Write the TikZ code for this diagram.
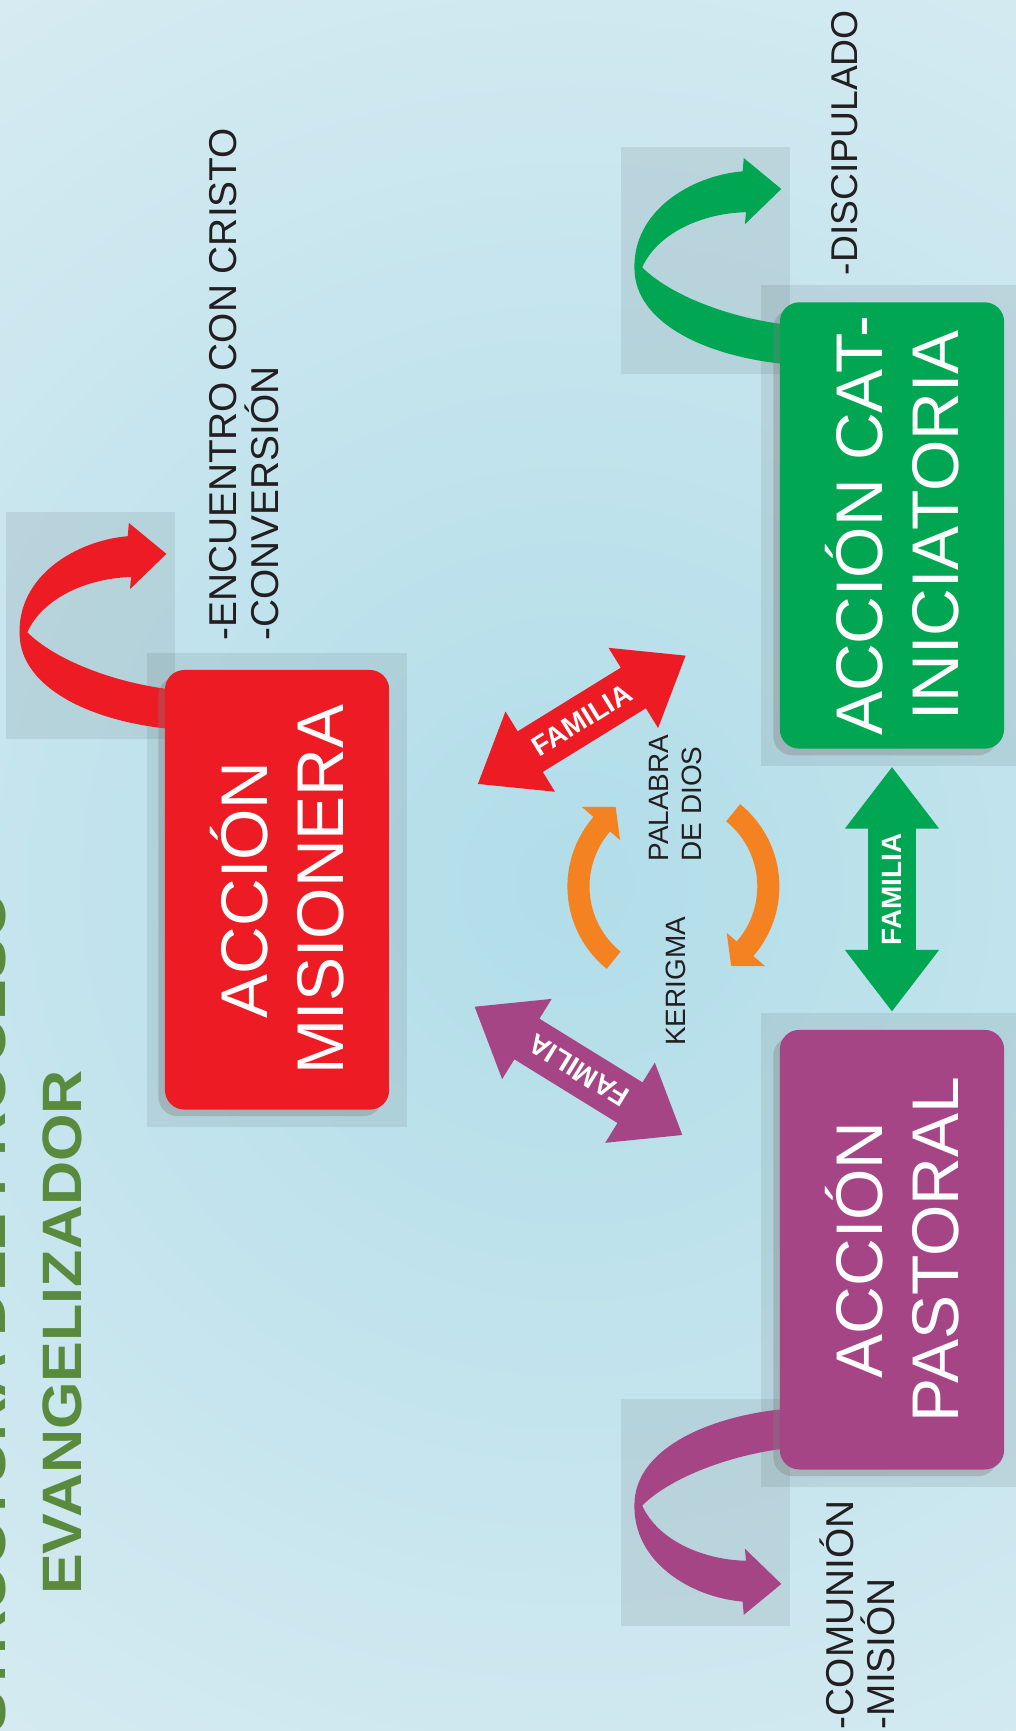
\documentclass[tikz,border=0pt]{standalone}
\usepackage{fontspec}
\setmainfont{Liberation Sans}
\newfontfamily\titlefont[FakeStretch=1.1]{Liberation Sans}
\usetikzlibrary{shapes.arrows,shadows,calc}

\definecolor{misred}{HTML}{ED1C24}
\definecolor{catgreen}{HTML}{00A651}
\definecolor{pastpurple}{HTML}{A54585}
\definecolor{kerorange}{HTML}{F58220}
\definecolor{titlegreen}{HTML}{5A8A3E}
\definecolor{inktext}{HTML}{231F20}
\definecolor{bglight}{HTML}{DCEDF3}
\definecolor{bgdeep}{HTML}{B1DDE9}

\pgfdeclarelayer{bg}
\pgfdeclarelayer{mid}
\pgfsetlayers{bg,mid,main}

\tikzset{
  accion/.style={rotate=90, rounded corners=5pt, minimum width=3.98cm,
    minimum height=2.03cm, text=white, align=center,
    font=\fontsize{17}{19.6}\selectfont,
    drop shadow={shadow xshift=-.6mm, shadow yshift=-.6mm, opacity=.35}},
  familia/.style={double arrow, minimum height=2.21cm, inner xsep=0pt,
    inner ysep=3.4pt, text height=5.1pt, text depth=0pt,
    double arrow head extend=6pt, double arrow tip angle=75,
    text=white, font=\bfseries\fontsize{7.2}{8}\selectfont},
  nota/.style={rotate=90, anchor=south west, inner sep=0pt, align=left,
    text=inktext, font=\fontsize{10}{10.6}\selectfont},
  sombra/.style={fill=black, opacity=.075},
  uturn/.pic={
    \fill[sombra] (-143,-178) rectangle (10,28);
    \fill[#1] (10,18) -- (0,18) .. controls (-70,10) and (-130,-20) .. (-131,-67)
      .. controls (-133,-120) and (-80,-152) .. (-33,-156)
      -- (-32,-168) -- (2,-140) -- (-31,-108) -- (-30,-119)
      .. controls (-70,-118) and (-110,-100) .. (-124,-69)
      .. controls (-100,-45) and (-50,-25) .. (0,-18) -- (10,-18) -- cycle;
  },
  kerturn/.pic={
    \fill[kerorange] (129:96) arc[start angle=129, end angle=221, radius=96]
      -- (221:110) -- (234:89) -- (221:64) -- (221:76)
      arc[start angle=221, end angle=129, radius=76] -- cycle;
  }
}

\begin{document}
\begin{tikzpicture}[x=0.01cm, y=-0.01cm]
  \useasboundingbox (0,0) rectangle (920,1568);

  % las tres acciones
  \node[accion, fill=misred] (mis) at (251,806) {ACCIÓN\\MISIONERA};
  \node[accion, fill=catgreen] (cat) at (808,476) {ACCIÓN CAT-\\INICIATORIA};
  \node[accion, fill=pastpurple] (pas) at (808,1132) {ACCIÓN\\PASTORAL};

  \begin{pgfonlayer}{bg}
    \fill[bglight] (0,0) rectangle (920,1568);
    \shade[inner color=bgdeep, outer color=bglight] (520,800) circle (1100);
  \end{pgfonlayer}

  \begin{pgfonlayer}{mid}
    \foreach \b in {mis,cat,pas}
      \fill[sombra] ([shift={(-16,-15)}]\b.north east) rectangle ([shift={(15,15)}]\b.south west);
    \pic at ([yshift=-0.355cm]mis.north east) {uturn=misred};
    \pic at ([yshift=-0.38cm]cat.north east) {uturn=catgreen};
    \pic[yscale=-1] at ([yshift=0.37cm]pas.north west) {uturn=pastpurple};
  \end{pgfonlayer}

  % flechas familia
  \node[familia, fill=misred, rotate=31.7] (famr) at (527,652) {FAMILIA};
  \node[familia, fill=pastpurple, rotate=148.3] (famp) at (524,970) {FAMILIA};
  \node[familia, fill=catgreen, rotate=90] (famg) at ($(cat.west)!.5!(pas.east)$) {FAMILIA};

  % giro central
  \coordinate (giro) at (610,803);
  \pic at (giro) {kerturn};
  \pic[rotate=180] at (giro) {kerturn};

  \node[nota] (enc) at (253,581) {-ENCUENTRO CON CRISTO\\-CONVERSIÓN};
  \node[nota, font=\fontsize{9.6}{10.6}\selectfont] (dis) at (778,250) {-DISCIPULADO};
  \node[nota] (com) at (811,1567) {-COMUNIÓN\\-MISIÓN};
  \node[nota, font=\fontsize{7.2}{8.3}\selectfont] (pal) at (636,781) {PALABRA\\DE DIOS};
  \node[nota, font=\fontsize{7.2}{8.3}\selectfont] (ker) at (622,948) {KERIGMA};

  \node[rotate=90, anchor=south, inner sep=0pt, align=center, text=titlegreen,
    font=\titlefont\bfseries\fontsize{14.3}{19.6}\selectfont] (titulo) at (75,1207)
    {ESTRUCTURA DEL PROCESO\\EVANGELIZADOR};
\end{tikzpicture}
\end{document}
